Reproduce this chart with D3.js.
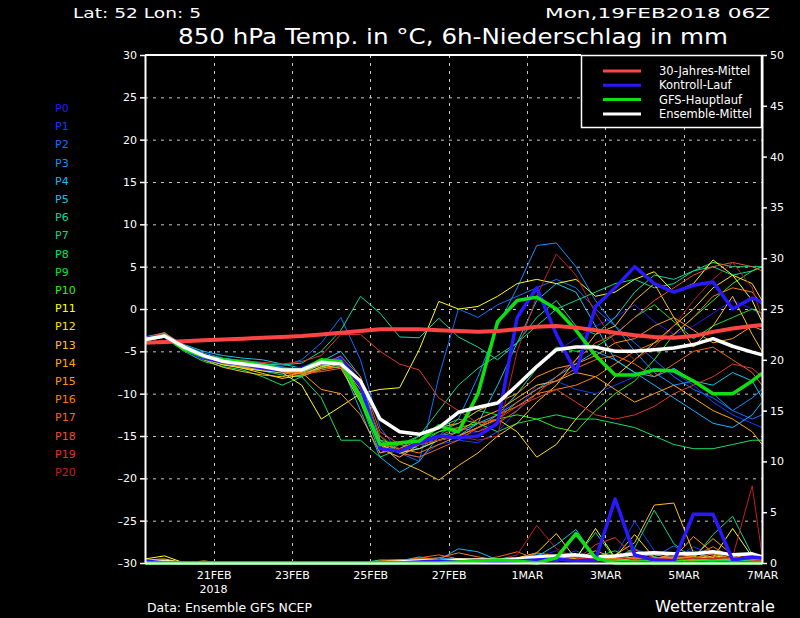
<!DOCTYPE html>
<html>
<head>
<meta charset="utf-8">
<script src="https://cdn.jsdelivr.net/npm/d3@7"></script>
<style>
body { margin: 0; background: #000; }
svg { display: block; background: #000; }
text { font-family: "DejaVu Sans", sans-serif; fill: #fff; }
</style>
</head>
<body>
<svg id="chart" width="800" height="618"></svg>
<script>
// run start 19FEB2018 06Z, values every 12h, last one at 7MAR 00Z
const runStart = Date.UTC(2018, 1, 19, 6)
const runEnd = Date.UTC(2018, 2, 7, 0)
const stepHours = d3.range(0, 373, 12).concat([378])

const memberColors = ['#2a18f8', '#0a40ff', '#1070ff', '#1090ff', '#10b8ff', '#10c8e8', '#10d8a0',
	'#10d888', '#10e060', '#10e030', '#30f010', '#ffff10', '#ffe010', '#ffc010', '#ffa810',
	'#ff9810', '#f88010', '#f06818', '#f05028', '#e03828', '#c02020']

// 850 hPa temperature of the perturbed members P0..P20 (°C)
const memberTemps = [
	[-3.4,-2.9,-4.6,-5.6,-6.2,-6.5,-6.9,-7.3,-7.0,-6.0,-6.5,-10,-16.5,-17.5,-16,-15.5,-15,-14.5,-13,-10,-7,-5,-3.5,-2,-1,0.5,-1.5,-3,-2,-0.5,1,0,-1],
	[-3.6,-3.1,-4.4,-5.4,-5.9,-6.4,-6.6,-7.0,-7.5,-6.8,-5.5,-8.5,-15.5,-17,-17.5,-16,-15.5,-15.8,-14.5,-12,-9,-8.5,-9.5,-10,-9,-8,-7,-7.5,-9,-11,-12.5,-13.5,-14],
	[-3.5,-3.0,-4.7,-5.8,-6.2,-6.0,-6.5,-6.8,-6.0,-4.0,-1.0,-6,-14,-17,-18,-8,0,-1,0.5,1.5,2.5,3.5,2.5,0,-2,-4,-6,-8,-9.5,-10.5,-12,-13,-12.5],
	[-3.3,-2.8,-4.3,-5.2,-5.8,-6.1,-6.4,-6.9,-7.1,-6.3,-5.8,-9,-16,-17,-16.5,-15,-13,-8,-2,2.5,7.5,7.8,5,1,-2,-5,-7.5,-9,-8.5,-10,-12,-10.5,-9.5],
	[-3.7,-3.2,-4.9,-5.9,-6.5,-6.8,-7.2,-7.6,-7.4,-6.6,-6.5,-12,-17.5,-19.3,-18,-15,-14.5,-13.5,-12.5,-11,-9.5,-8,-6.5,-5,-6,-7.5,-9,-10.5,-12,-13.5,-14,-12.5,-11],
	[-3.5,-3.0,-4.2,-5.0,-5.5,-5.8,-6.0,-6.5,-7.0,-6.2,-5.0,-8,-15.5,-16,-16.5,-15.5,-15,-13.5,-9,-4,1,3,2,-2,-6,-7.5,-8,-7,-8.5,-9,-7.5,-8.5,-10.5],
	[-3.4,-2.9,-4.5,-5.6,-6.1,-6.3,-6.5,-6.6,-6.4,-5.0,-2.5,1.5,-0.5,-3.3,-3.4,-1.1,-3.3,-4.5,-6,-4,-1,1,-2,-3,-1,2,4,3.5,4.5,5,4,4.5,5],
	[-3.6,-3.1,-4.8,-6.0,-6.6,-6.9,-7.3,-7.8,-8.0,-7.0,-6.8,-11,-17,-16,-15,-12,-9,-7,-5.5,-4,-2,0,1,2,3,3.5,2.5,3,4.5,5.5,5,5,5],
	[-3.8,-3.3,-5.0,-6.2,-6.8,-7.2,-8.0,-9.0,-8.0,-10.5,-15.5,-15.5,-17.5,-16.5,-15,-14,-13,-13.5,-14.5,-13.5,-13,-12.5,-13,-13,-13.5,-14,-15,-16,-16.5,-16.5,-16,-15.5,-15.5],
	[-3.5,-3.0,-4.6,-5.7,-6.3,-6.6,-6.9,-7.4,-7.6,-6.9,-6.2,-10,-16.5,-16,-15.5,-14.5,-13.5,-12,-12.5,-10,-7,-4.5,-5,-4.5,-3,-1,0.5,-1.5,-3.5,-2,-1,0,-0.5],
	[-3.4,-3.0,-4.4,-5.5,-6.0,-6.2,-6.6,-7.1,-7.3,-6.5,-6.0,-9,-15,-17,-16,-14.5,-14,-13.5,-13,-12.5,-13,-14,-14.5,-12,-10,-8.5,-6,-3,-1,1,3,4.5,5],
	[-3.5,-3.1,-4.7,-5.9,-6.6,-7.0,-7.3,-7.5,-9.0,-13.0,-11.5,-10,-9.5,-9.3,-4.8,0.9,0,0.3,1.5,3,3.5,3,3.5,1.5,2,3.5,4.4,2,3,5.8,4,1,-1.5],
	[-3.6,-3.0,-4.5,-5.8,-6.4,-7.0,-7.6,-8.2,-7.8,-6.8,-6.4,-10.5,-16,-17,-16.5,-15.5,-15,-14,-13,-14.5,-17.5,-16,-13,-10.5,-8,-6,-4,-2,0,2.5,4,3,1],
	[-3.7,-3.2,-4.8,-6.0,-6.9,-7.4,-7.8,-8.0,-7.5,-6.6,-7.0,-11,-16,-18,-19,-20.2,-18.5,-17,-15,-13.5,-11,-9,-6,-3,-2,1,3,-1,-4.5,-2,1.5,-3,-5],
	[-3.5,-2.9,-4.4,-5.5,-6.2,-6.7,-7.0,-7.4,-7.7,-7.0,-6.5,-9.5,-16.5,-17.5,-16,-15.5,-14.5,-13,-12,-10.5,-9,-8.5,-7.5,-8,-9.5,-11,-10,-9,-10.5,-12,-13,-14.5,-16],
	[-3.6,-3.1,-4.7,-5.8,-6.5,-6.9,-7.2,-7.4,-7.5,-9.5,-10.0,-12.5,-17,-16.5,-15.5,-14,-13.5,-12,-11,-10,-8,-7,-6.5,-5.5,-4,-3.5,-2,-1,-2.5,-4,-3.5,-2,-2.5],
	[-3.4,-2.8,-4.5,-5.6,-6.3,-6.6,-7.0,-7.5,-7.9,-7.2,-6.8,-9,-16,-16.5,-17,-16,-15,-14,-12.5,-11.5,-10,-9.5,-9,-8,-6.5,-5,-4,-3,-1,1.5,2.5,2,0.5],
	[-3.5,-3.0,-4.6,-5.7,-6.2,-6.4,-6.8,-7.3,-7.6,-7.4,-7.0,-10,-15.5,-17,-17.5,-16.5,-15.5,-14,-13,-11,-9.5,-8.5,-7,-6,-5.5,-6.5,-8,-6.5,-5,-4.5,-6,-7.5,-9],
	[-3.3,-2.9,-4.3,-5.4,-5.9,-6.2,-6.6,-7.0,-7.2,-6.4,-5.6,-8,-14.5,-16,-15.5,-15,-14,-14.5,-13.5,-12,-10,-8,-6,-4,-3,-1,1,2.5,4,5,5.5,5,4.5],
	[-3.6,-3.1,-4.5,-5.6,-6.0,-6.1,-6.3,-6.5,-6.2,-5.5,-3.0,-3,-5,-6.5,-7.2,-10.5,-12,-13.5,-13,-11.5,-10.5,-9.5,-11,-12.5,-13,-12.5,-11.5,-10,-9,-8,-6.5,-7,-8],
	[-3.5,-3.0,-4.6,-5.7,-6.3,-6.5,-6.8,-7.1,-7.2,-6.5,-6.2,-9,-15,-16.5,-16,-15.5,-15,-15.5,-15,-5,1.5,6.5,4,-0.5,-4,-6,-4.5,-2,1,3.5,5.5,2.5,-1]
]

// 6h precipitation of the members (mm)
const memberPrecip = [
	[0.3,0.2,0,0,0,0,0,0,0,0,0,0,0,0.1,0.2,0.3,0.2,0.4,0.3,0.2,0.6,1.2,0.4,0.3,0.5,0.4,1.0,0.6,0.3,0.2,0.6,0.4,0.3],
	[0.2,0,0,0,0,0,0,0,0,0,0,0,0,0,0.2,0.2,0.2,0.3,0.2,0.3,0.3,0.5,1.2,0.4,0.6,4.1,1.2,0.4,1.6,0.8,0.3,0.5,0.2],
	[0.4,0.2,0,0,0,0,0,0,0,0,0,0,0,0,0,0.2,0.3,0.2,0.3,0.4,0.7,0.3,0.5,0.2,0.3,1.4,0.6,1.7,0.5,0.3,0.2,0.7,0.4],
	[0.3,0,0,0,0,0,0,0,0,0,0,0,0,0.2,0.2,0.5,0.3,0.2,0.2,0.3,0.9,0.5,0.3,0.2,0.6,0.3,0.4,0.9,1.2,0.5,0.3,0.4,0.6],
	[0.2,0,0,0,0,0,0,0,0,0,0,0,0,0.2,0.6,0.3,1.4,1.1,0.3,0.2,0.3,0.6,0.4,0.3,0.2,0.5,0.3,0.4,0.3,0.5,0.2,0.3,0.2],
	[0,0,0,0,0,0,0,0,0,0,0,0,0,0,0.2,0.3,0.3,0.2,0.2,0.5,0.6,1.8,3.3,0.5,0.3,0.4,0.2,0.6,0.3,0.2,0.6,0.4,0.3],
	[0,0,0,0,0,0,0,0,0,0,0,0,0,0.2,0.3,0.2,0.2,0.3,0.2,0.2,0.4,0.3,0.5,3.0,0.4,0.3,0.5,0.6,0.4,2.8,4.6,0.8,0.3],
	[0,0,0,0,0,0,0,0,0,0,0,0,0.3,0.3,0.2,0.2,0.2,0.2,0.3,0.2,0.3,0.4,0.6,0.3,0.4,1.5,5.2,1.9,0.4,0.3,0.5,0.3,0.2],
	[0,0,0,0,0,0,0,0,0,0,0,0,0,0.2,0.4,0.2,0.2,0.3,0.2,0.2,0.2,0.3,0.2,0.4,0.3,0.2,0.3,0.2,0.3,0.2,0.3,0.2,0.2],
	[0,0,0,0,0,0,0,0,0,0,0,0,0,0,0.2,0.2,0.3,0.2,0.4,0.3,0.2,0.5,0.4,0.6,1.2,0.3,0.2,0.5,0.3,0.2,0.4,0.3,0.2],
	[0,0,0,0,0,0,0,0,0,0,0,0,0,0.2,0.2,0.3,0.2,0.2,0.3,0.2,0.3,0.2,0.4,0.3,0.2,0.3,0.6,0.3,0.2,0.4,0.3,0.5,0.3],
	[0.4,0.7,0,0,0,0,0,0,0,0,0,0,0,0.2,0.2,0.3,0.2,0.3,0.2,0.3,0.6,0.5,0.4,3.4,0.5,0.3,0.4,0.3,0.6,0.5,3.4,0.6,0.3],
	[0.2,0.3,0,0,0,0,0,0,0,0,0,0,0,0.1,0.2,0.3,0.2,0.2,0.4,0.5,1.0,2.9,0.4,0.3,0.6,2.8,0.5,0.4,0.3,0.7,0.5,0.6,0.3],
	[0.3,0.4,0,0.2,0,0,0,0,0,0,0,0,0,0.2,0.3,0.2,0.3,0.2,0.3,0.4,0.3,0.5,0.3,0.4,0.8,2.0,5.7,5.9,1.0,0.4,0.6,0.3,0.4],
	[0,0,0,0,0,0,0,0,0,0,0,0,0,0.2,0.3,0.3,0.4,0.3,0.2,0.4,0.3,0.6,0.4,1.2,0.5,0.4,0.3,1.0,0.6,2.4,0.8,0.3,0.5],
	[0,0,0,0,0,0,0,0,0,0,0,0,0.2,0.3,0.3,0.2,0.2,0.3,0.4,0.3,0.5,0.4,0.3,0.5,0.4,0.6,0.8,0.5,2.6,1.0,0.4,0.6,0.3],
	[0,0,0,0,0,0,0,0,0,0,0,0,0,0.3,0.4,0.5,1.0,0.6,0.3,0.4,1.0,0.7,0.5,0.4,0.3,0.5,0.4,0.6,0.5,0.9,0.4,0.3,0.5],
	[0,0,0,0,0,0,0,0,0,0,0,0,0,0.2,0.5,0.8,0.4,0.3,0.6,1.1,0.4,0.5,0.3,0.6,0.5,0.4,0.3,0.5,0.7,1.6,0.5,0.4,0.3],
	[0,0,0,0,0,0,0,0,0,0,0,0,0,0.2,0.3,0.2,0.3,0.4,0.3,0.2,0.4,0.3,0.6,0.4,0.3,1.3,0.5,0.4,0.3,0.6,0.4,0.7,0.3],
	[0,0,0,0,0,0,0,0,0,0,0,0,0,0.1,0.2,0.3,0.2,0.3,0.2,0.3,0.5,0.4,0.3,1.8,2.5,0.6,0.4,0.3,0.5,0.4,0.6,0.3,0.2],
	[0,0,0,0,0,0,0,0,0,0,0,0,0,0,0.2,0.2,0.3,0.2,0.3,0.8,3.7,1.4,0.5,0.4,0.6,0.3,0.4,0.3,0.5,0.4,0.6,7.6,0.8]
]

const controlTemp = [-3.5,-3.2,-4.8,-5.8,-6.3,-6.5,-7.0,-7.3,-7.0,-6.2,-6.0,-9,-16.5,-16.8,-15.8,-15,-15.2,-15,-13.5,-1,2.5,-3,-7.5,0.3,2.5,5,3,2,2.8,3.2,0,1.3,0.8]
const gfsTemp = [-3.6,-3.2,-4.8,-5.6,-6.0,-6.3,-6.6,-7.2,-7.2,-6.0,-6.2,-10.5,-16,-15.8,-15.6,-13.8,-14.5,-10,-1.5,1,1.4,0,-2.5,-5.5,-7.8,-7.8,-7.2,-7.3,-8.5,-10,-10,-8.5,-7.6]
const meanTemp = [-3.6,-3.2,-4.5,-5.5,-6.2,-6.5,-6.8,-7.2,-7.2,-6.3,-6.5,-8.5,-13,-14.5,-14.8,-14,-12.2,-11.6,-11.1,-9,-6.8,-4.8,-4.5,-4.5,-5,-5,-4.8,-4.6,-4.2,-3.5,-4.4,-5.1,-5.4]
const climateTemp = [-4,-3.9,-3.8,-3.7,-3.6,-3.5,-3.4,-3.3,-3.2,-3,-2.8,-2.6,-2.4,-2.4,-2.4,-2.5,-2.6,-2.7,-2.6,-2.4,-2.1,-2,-2.2,-2.5,-2.8,-3.1,-3.3,-3.4,-3.2,-2.7,-2.3,-2,-1.9]

const controlPrecip = [0.2,0,0,0,0,0,0,0,0,0,0,0,0,0,0.1,0.2,0.1,0.2,0.1,0.2,0.3,0.4,0.2,0.3,6.3,0.8,0.3,0.2,4.8,4.8,0.3,0.6,0.5]
const gfsPrecip = [0,0,0,0,0,0,0,0,0,0,0,0,0,0,0,0,0.1,0.2,0.3,0.2,0,0.5,2.9,0.5,0,0,0,0,0,0,0,0,0]
const meanPrecip = [0.1,0.1,0,0,0,0,0,0,0,0,0,0,0,0.1,0.2,0.2,0.3,0.3,0.3,0.4,0.6,0.7,0.8,0.6,0.7,0.9,1.0,0.9,0.9,1.1,0.8,0.9,0.6]

const legendItems = [
	{ label: '30-Jahres-Mittel', color: '#ff4444' },
	{ label: 'Kontroll-Lauf', color: '#2a18ff' },
	{ label: 'GFS-Hauptlauf', color: '#10e010' },
	{ label: 'Ensemble-Mittel', color: '#ffffff' }
]

const svg = d3.select('#chart')
const plot = { left: 145, right: 762, top: 55, bottom: 563 }

const times = stepHours.map((h) => new Date(runStart + h * 3600e3))

const x = d3.scaleUtc()
	.domain([new Date(runStart), new Date(runEnd)])
	.range([plot.left, plot.right])
const yTemp = d3.scaleLinear().domain([-30, 30]).range([plot.bottom, plot.top])
const yPrecip = d3.scaleLinear().domain([0, 50]).range([plot.bottom, plot.top])

const dayTicks = d3.utcDay.every(2).range(new Date(runStart), new Date(runEnd + 1))

svg.append('clipPath').attr('id', 'clip')
	.append('rect')
	.attr('x', plot.left).attr('y', plot.top)
	.attr('width', plot.right - plot.left)
	.attr('height', plot.bottom - plot.top + 3)

// grid
const grid = svg.append('g')
	.attr('stroke', '#c8c8c8')
	.attr('stroke-width', 1)
	.attr('stroke-dasharray', '3,5')
grid.selectAll('.hgrid')
	.data(d3.range(-25, 26, 5))
	.join('line')
		.attr('x1', plot.left).attr('x2', plot.right)
		.attr('y1', (d) => yTemp(d) + 0.5).attr('y2', (d) => yTemp(d) + 0.5)
grid.selectAll('.vgrid')
	.data(dayTicks.filter((d) => x(d) < plot.right - 2))
	.join('line')
		.attr('x1', (d) => Math.round(x(d)) + 0.5).attr('x2', (d) => Math.round(x(d)) + 0.5)
		.attr('y1', plot.top).attr('y2', plot.bottom)

const lines = svg.append('g').attr('clip-path', 'url(#clip)')
const tempLine = d3.line().x((d, i) => x(times[i])).y((d) => yTemp(d))
const precipLine = d3.line().x((d, i) => x(times[i])).y((d) => yPrecip(d))

const drawSeries = (data, gen, color, width) => {
	lines.append('path')
		.datum(data)
		.attr('d', gen)
		.attr('fill', 'none')
		.attr('stroke', color)
		.attr('stroke-width', width)
		.attr('stroke-linejoin', 'round')
}

memberTemps.forEach((s, i) => drawSeries(s, tempLine, memberColors[i], 1))
drawSeries(controlTemp, tempLine, legendItems[1].color, 3.5)
drawSeries(gfsTemp, tempLine, legendItems[2].color, 3.5)
drawSeries(climateTemp, tempLine, legendItems[0].color, 4)
drawSeries(meanTemp, tempLine, legendItems[3].color, 3.5)

memberPrecip.forEach((s, i) => drawSeries(s, precipLine, memberColors[i], 1))
drawSeries(meanPrecip, precipLine, legendItems[3].color, 3.5)
drawSeries(controlPrecip, precipLine, legendItems[1].color, 3.5)
drawSeries(gfsPrecip, precipLine, legendItems[2].color, 3.5)

// axes
const styleAxis = (g) => {
	g.select('.domain').attr('stroke', '#fff').attr('stroke-width', 2)
	g.selectAll('.tick line').attr('stroke', '#fff').attr('stroke-width', 1.5)
	g.selectAll('.tick text')
		.attr('fill', '#fff')
		.attr('font-size', 11)
		.attr('font-family', '"DejaVu Sans", sans-serif')
}

svg.append('g')
	.attr('transform', `translate(${plot.left},0)`)
	.call(d3.axisLeft(yTemp).tickValues(d3.range(-30, 31, 5)).tickSize(5).tickSizeOuter(0).tickPadding(3)
		.tickFormat((d) => String(d).replace('-', '\u2013')))
	.call(styleAxis)

svg.append('g')
	.attr('transform', `translate(${plot.right},0)`)
	.call(d3.axisRight(yPrecip).tickValues(d3.range(0, 51, 5)).tickSize(5).tickSizeOuter(0).tickPadding(3))
	.call(styleAxis)

const dateFormat = d3.utcFormat('%-d%b')
svg.append('g')
	.attr('transform', `translate(0,${plot.bottom})`)
	.call(d3.axisBottom(x).tickValues(dayTicks).tickSize(0).tickSizeOuter(0).tickPadding(8)
		.tickFormat((d) => dateFormat(d).toUpperCase()))
	.call(styleAxis)

svg.append('text')
	.attr('x', x(dayTicks[0])).attr('y', 593)
	.attr('text-anchor', 'middle').attr('font-size', 11)
	.text('2018')

svg.append('line')
	.attr('x1', plot.left).attr('x2', 581)
	.attr('y1', plot.top).attr('y2', plot.top)
	.attr('stroke', '#fff').attr('stroke-width', 2)

// legend
const legend = svg.append('g')
legend.append('rect')
	.attr('x', 581.5).attr('y', 55.5).attr('width', 180).attr('height', 72)
	.attr('fill', '#000').attr('stroke', '#fff').attr('stroke-width', 1.5)
const legendRow = legend.selectAll('.row')
	.data(legendItems)
	.join('g')
		.attr('transform', (d, i) => `translate(603,${71 + i * 14.3})`)
legendRow.append('line')
	.attr('x1', 0).attr('x2', 38)
	.attr('stroke', (d) => d.color).attr('stroke-width', 3)
legendRow.append('text')
	.attr('x', 56).attr('y', 4)
	.attr('font-size', 11.5)
	.text((d) => d.label)

// member labels
svg.append('g').selectAll('text')
	.data(memberColors)
	.join('text')
		.attr('x', 55)
		.attr('y', (d, i) => 112 + i * 18.2)
		.attr('font-size', 11)
		.style('fill', (d) => d)
		.text((d, i) => 'P' + i)

// titles
svg.append('text').attr('x', 73).attr('y', 18).attr('font-size', 14)
	.attr('textLength', 128).attr('lengthAdjust', 'spacingAndGlyphs')
	.text('Lat: 52 Lon: 5')
svg.append('text').attr('x', 770).attr('y', 18).attr('font-size', 14)
	.attr('text-anchor', 'end')
	.attr('textLength', 225).attr('lengthAdjust', 'spacingAndGlyphs')
	.text('Mon,19FEB2018 06Z')
svg.append('text').attr('x', 178).attr('y', 44).attr('font-size', 22)
	.attr('textLength', 550).attr('lengthAdjust', 'spacingAndGlyphs')
	.text('850 hPa Temp. in °C, 6h-Niederschlag in mm')
svg.append('text').attr('x', 147).attr('y', 612).attr('font-size', 13)
	.attr('textLength', 165).attr('lengthAdjust', 'spacingAndGlyphs')
	.text('Data: Ensemble GFS NCEP')
svg.append('text').attr('x', 775).attr('y', 612).attr('font-size', 15)
	.attr('text-anchor', 'end')
	.attr('textLength', 120).attr('lengthAdjust', 'spacingAndGlyphs')
	.text('Wetterzentrale')
</script>
</body>
</html>
